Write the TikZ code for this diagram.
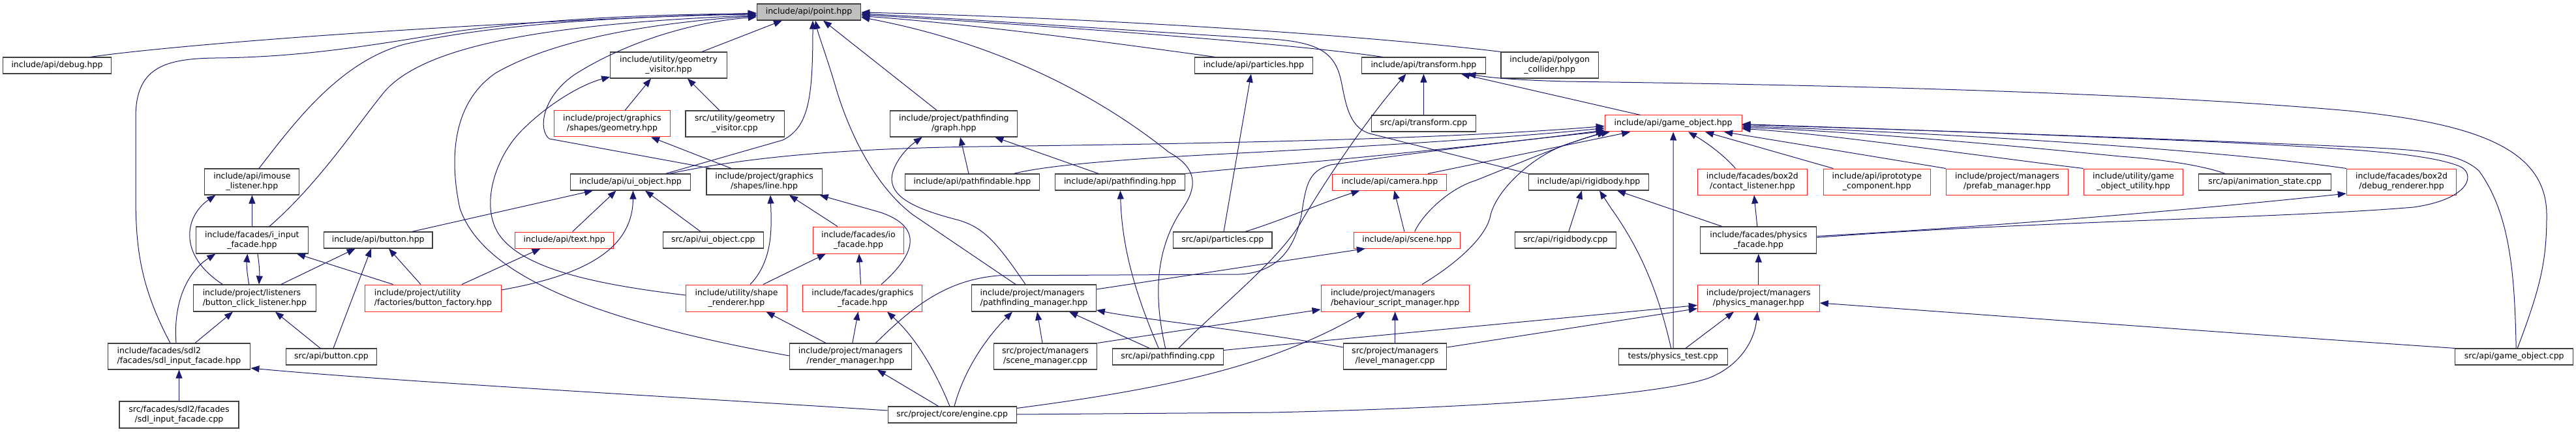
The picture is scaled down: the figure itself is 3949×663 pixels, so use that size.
\documentclass[tikz,border=0pt]{standalone}
\usepackage{fontspec}
\setmainfont{DejaVu Sans}
\usetikzlibrary{arrows.meta,calc}
\definecolor{edgec}{HTML}{191970}
\definecolor{boxk}{HTML}{404040}
\definecolor{boxr}{HTML}{FF2020}
\definecolor{pointfill}{HTML}{BFBFBF}
\tikzset{
  nd/.style={draw=boxk, line width=1.1pt, fill=white, inner sep=0pt, font=\fontsize{12.5}{15}\selectfont, align=center},
  rd/.style={nd, draw=boxr, line width=1pt},
  lft/.style={align=left},
  e/.style={draw=edgec, line width=1pt, -{Triangle[length=13pt,width=10pt]}},
}
\begin{document}
\begin{tikzpicture}[x=1pt,y=-1pt]
\useasboundingbox (0,0) rectangle (3949,663);
% row 0
\node[nd, fill=pointfill, minimum width=159.4pt, minimum height=25pt] (point) at (1240,18.5) {include/api/point.hpp};
% row 1
\node[nd, minimum width=166pt, minimum height=25pt] (debug) at (87.5,100.5) {include/api/debug.hpp};
\node[nd, minimum width=178.6pt, minimum height=40pt] (geovis) at (1025,100) {include/utility/geometry\\\_visitor.hpp};
\node[nd, minimum width=181.3pt, minimum height=25pt] (particles) at (1921.9,100.5) {include/api/particles.hpp};
\node[nd, minimum width=189.7pt, minimum height=25pt] (transform) at (2182.4,100.5) {include/api/transform.hpp};
\node[nd, minimum width=149.5pt, minimum height=40pt] (polygon) at (2375.7,100) {include/api/polygon\\\_collider.hpp};
% row 2
\node[rd, minimum width=177.7pt, minimum height=40pt] (geometry) at (938.4,190) {include/project/graphics\\/shapes/geometry.hpp};
\node[nd, minimum width=151.3pt, minimum height=40pt] (geoviscpp) at (1126.6,190) {src/utility/geometry\\\_visitor.cpp};
\node[nd, minimum width=195pt, minimum height=40pt] (graph) at (1462.3,190) {include/project/pathfinding\\/graph.hpp};
\node[nd, minimum width=160.3pt, minimum height=25pt] (transcpp) at (2182.4,189.5) {src/api/transform.cpp};
\node[rd, minimum width=209.8pt, minimum height=25pt] (gameobj) at (2565.1,189.5) {include/api/game\_object.hpp};
% row 3
\node[nd, minimum width=145pt, minimum height=40pt] (imouse) at (386.4,279) {include/api/imouse\\\_listener.hpp};
\node[nd, minimum width=184pt, minimum height=25pt] (uiobj) at (966.5,279.5) {include/api/ui\_object.hpp};
\node[nd, minimum width=177.2pt, minimum height=40pt] (line) at (1171.6,279) {include/project/graphics\\/shapes/line.hpp};
\node[nd, minimum width=206.7pt, minimum height=25pt] (pfable) at (1490.4,279.5) {include/api/pathfindable.hpp};
\node[nd, minimum width=199pt, minimum height=25pt] (pfhpp) at (1717,279.5) {include/api/pathfinding.hpp};
\node[rd, minimum width=175pt, minimum height=25pt] (camera) at (2130.4,279.5) {include/api/camera.hpp};
\node[nd, minimum width=184.4pt, minimum height=25pt] (rigid) at (2435.5,279.5) {include/api/rigidbody.hpp};
\node[rd, minimum width=168.3pt, minimum height=40pt] (contact) at (2686.4,279) {include/facades/box2d\\/contact\_listener.hpp};
\node[rd, minimum width=164.3pt, minimum height=40pt] (iproto) at (2877.3,279) {include/api/iprototype\\\_component.hpp};
\node[rd, minimum width=187pt, minimum height=40pt] (prefab) at (3077,279) {include/project/managers\\/prefab\_manager.hpp};
\node[rd, minimum width=152.7pt, minimum height=40pt] (goutil) at (3270.5,279) {include/utility/game\\\_object\_utility.hpp};
\node[nd, minimum width=203pt, minimum height=25pt] (anim) at (3472,279.5) {src/api/animation\_state.cpp};
\node[rd, minimum width=168.7pt, minimum height=40pt] (dbgrend) at (3681.6,279) {include/facades/box2d\\/debug\_renderer.hpp};
% row 4
\node[nd, minimum width=172pt, minimum height=41pt] (iinput) at (386.4,368.5) {include/facades/i\_input\\\_facade.hpp};
\node[nd, minimum width=166.5pt, minimum height=25pt] (button) at (579.7,368.5) {include/api/button.hpp};
\node[rd, minimum width=150.9pt, minimum height=25pt] (text) at (865.2,368.5) {include/api/text.hpp};
\node[nd, minimum width=154.5pt, minimum height=25pt] (uiobjcpp) at (1093.3,368.5) {src/api/ui\_object.cpp};
\node[rd, minimum width=139.7pt, minimum height=41pt] (iofac) at (1315.9,368.5) {include/facades/io\\\_facade.hpp};
\node[nd, minimum width=151.3pt, minimum height=25pt] (partcpp) at (1874.3,368.5) {src/api/particles.cpp};
\node[rd, minimum width=163pt, minimum height=25pt] (scene) at (2156.9,368.5) {include/api/scene.hpp};
\node[nd, minimum width=154.9pt, minimum height=25pt] (rigidcpp) at (2399.8,368.5) {src/api/rigidbody.cpp};
\node[nd, minimum width=178.1pt, minimum height=41pt] (physfac) at (2695.8,368.5) {include/facades/physics\\\_facade.hpp};
% row 5
\node[nd, lft, minimum width=188pt, minimum height=41pt] (bcl) at (390.4,457.5) {include/project/listeners\\/button\_click\_listener.hpp};
\node[rd, lft, minimum width=208.5pt, minimum height=41pt] (bfac) at (664,457.5) {include/project/utility\\/factories/button\_factory.hpp};
\node[rd, minimum width=155.4pt, minimum height=41pt] (shaper) at (1129,457.5) {include/utility/shape\\\_renderer.hpp};
\node[rd, minimum width=183pt, minimum height=41pt] (gfac) at (1322.3,457.5) {include/facades/graphics\\\_facade.hpp};
\node[nd, lft, minimum width=190.6pt, minimum height=41pt] (pfman) at (1585,457.5) {include/project/managers\\/pathfinding\_manager.hpp};
\node[rd, lft, minimum width=227.2pt, minimum height=41pt] (behav) at (2138.6,457.5) {include/project/managers\\/behaviour\_script\_manager.hpp};
\node[rd, minimum width=187pt, minimum height=41pt] (physman) at (2695.8,457.5) {include/project/managers\\/physics\_manager.hpp};
% row 6
\node[nd, lft, minimum width=218.7pt, minimum height=40pt] (sdlh) at (274.5,547) {include/facades/sdl2\\/facades/sdl\_input\_facade.hpp};
\node[nd, minimum width=138.4pt, minimum height=25pt] (buttoncpp) at (508,547.5) {src/api/button.cpp};
\node[nd, minimum width=187pt, minimum height=40pt] (renderm) at (1303.8,547) {include/project/managers\\/render\_manager.hpp};
\node[nd, minimum width=158.5pt, minimum height=40pt] (scenemcpp) at (1602.5,547) {src/project/managers\\/scene\_manager.cpp};
\node[nd, minimum width=169.7pt, minimum height=25pt] (pfcpp) at (1790.2,547.5) {src/api/pathfinding.cpp};
\node[nd, minimum width=158.4pt, minimum height=40pt] (levelm) at (2138.6,547) {src/project/managers\\/level\_manager.cpp};
\node[nd, minimum width=167pt, minimum height=25pt] (phystest) at (2564.7,547.5) {tests/physics\_test.cpp};
\node[nd, minimum width=180.8pt, minimum height=25pt] (gocpp) at (3854.2,547.5) {src/api/game\_object.cpp};
% row 7
\node[nd, minimum width=183pt, minimum height=41pt] (sdlcpp) at (274.5,636.5) {src/facades/sdl2/facades\\/sdl\_input\_facade.cpp};
\node[nd, minimum width=196.9pt, minimum height=25pt] (engine) at (1459.6,636.5) {src/project/core/engine.cpp};

% ---------- edges into point.hpp
\draw[e] ($(debug.north)+(51,0)$) .. controls (260,70) and (650,38) .. ($(point.west)+(0,1.5)$);
\draw[e] ($(sdlh.north)+(-13.5,0)$) .. controls (215,440) and (208,380) .. (208,300) -- (208,180) .. controls (208,105) and (250,90) .. (330,89) .. controls (460,88) and (570,70) .. (700,48) .. controls (850,28) and (1000,22) .. ($(point.west)+(0,2.5)$);
\draw[e] ($(imouse.north)+(10.6,0)$) .. controls (450,190) and (520,95) .. (620,68) .. controls (750,38) and (950,25) .. ($(point.west)+(0,3.5)$);
\draw[e] ($(iinput.north)+(26.6,0)$) .. controls (490,280) and (545,195) .. (590,140) .. controls (645,78) and (800,38) .. ($(point.west)+(0,5)$);
\draw[e] ($(renderm.west)+(0,-1)$) .. controls (900,490) and (740,420) .. (705,320) .. controls (690,250) and (690,160) .. (760,112) .. controls (850,60) and (1000,35) .. ($(point.west)+(0,6)$);
\draw[e] ($(line.north west)+(7,0)$) -- (842,213) .. controls (825,200) and (830,150) .. (880,115) .. controls (950,70) and (1050,35) .. ($(point.west)+(0,7.5)$);
\draw[e] ($(geovis.north)+(51,0)$) -- ($(point.south)+(-41,0)$);
\draw[e] ($(uiobj.north)+(54,0)$) -- (1200,215) .. controls (1240,195) and (1246,150) .. ($(point.south)+(6,0)$);
\draw[e] ($(graph.north)+(-26,0)$) -- ($(point.south)+(22,0)$);
\draw[e] ($(pfman.north)+(-28,0)$) -- (1400,330) .. controls (1340,285) and (1300,200) .. (1280,130) .. controls (1265,80) and (1255,55) .. ($(point.south)+(10,0)$);
\draw[e] ($(pfcpp.north)+(-3.6,0)$) .. controls (1772,470) and (1765,390) .. (1813,320) .. controls (1840,280) and (1830,255) .. (1791,233) .. controls (1700,160) and (1550,70) .. ($(point.east)+(0,8)$);
\draw[e] ($(particles.north)+(-59.4,0)$) .. controls (1700,65) and (1500,38) .. ($(point.east)+(0,6)$);
\draw[e] ($(transform.north)+(-62.8,0)$) .. controls (2000,70) and (1700,45) .. ($(point.east)+(0,4)$);
\draw[e] (polygon.north west) .. controls (2100,55) and (1700,28) .. ($(point.east)+(0,0.5)$);
\draw[e] (rigid.north west) -- (2100,205) .. controls (2065,195) and (2062,150) .. (2055,120) .. controls (2045,80) and (2020,65) .. (1950,60) .. controls (1700,45) and (1500,30) .. ($(point.east)+(0,2.5)$);
% ---------- geovis, geometry
\draw[e] ($(shaper.west)+(0,-4.5)$) .. controls (900,435) and (800,410) .. (765,360) .. controls (735,315) and (760,240) .. (800,200) .. controls (840,160) and (890,130) .. ($(geovis.west)+(0,18)$);
\draw[e] ($(geometry.north)+(19.6,0)$) -- ($(geovis.south)+(-27,0)$);
\draw[e] ($(geoviscpp.north)+(-23.6,0)$) -- ($(geovis.south)+(29,0)$);
\draw[e] ($(line.north)+(-50.6,0)$) -- ($(geometry.south)+(59.6,0)$);
% ---------- ui_object
\draw[e] ($(button.north)+(52,0)$) -- ($(uiobj.south)+(-57.5,0)$);
\draw[e] ($(text.north)+(12.5,0)$) -- ($(uiobj.south)+(-22,0)$);
\draw[e] ($(uiobjcpp.north)+(-19.3,0)$) -- ($(uiobj.south)+(22.5,0)$);
\draw[e] ($(bfac.east)+(0,-12.5)$) .. controls (880,425) and (970,390) .. ($(uiobj.south)+(4,0)$);
% ---------- line
\draw[e] ($(shaper.north)+(21,0)$) .. controls (1185,400) and (1183,350) .. ($(line.south)+(9.4,0)$);
\draw[e] ($(iofac.north)+(-32,0)$) -- ($(line.south)+(38.4,0)$);
\draw[e] ($(gfac.north)+(28.7,0)$) .. controls (1415,380) and (1405,345) .. (1350,326) -- ($(line.south)+(85,0)$);
% ---------- text, io, shape, graphics, render
\draw[e] ($(bfac.north)+(44,0)$) -- ($(text.south)+(-36.6,0)$);
\draw[e] ($(shaper.north)+(41,0)$) -- ($(iofac.south)+(-50,0)$);
\draw[e] ($(gfac.north)+(-2.7,0)$) -- ($(iofac.south)+(1,0)$);
\draw[e] ($(renderm.north)+(-37.8,0)$) -- ($(shaper.south)+(45.5,0)$);
\draw[e] ($(renderm.north)+(3,0)$) -- ($(gfac.south)+(-6.7,0)$);
\draw[e] ($(engine.north)+(-3.6,0)$) .. controls (1430,560) and (1400,515) .. ($(gfac.south)+(37.7,0)$);
\draw[e] ($(engine.north)+(-21,0)$) -- ($(renderm.south)+(41,0)$);
% ---------- input side
\draw[e] (iinput.north) -- (imouse.south);
\draw[e] ($(bcl.north)+(-49,0)$) .. controls (270,390) and (285,330) .. ($(imouse.south)+(-56,0)$);
\draw[e] ($(sdlh.north)+(-4.5,0)$) .. controls (265,460) and (290,415) .. ($(iinput.south)+(-56,0)$);
\draw[e] ($(bcl.north)+(-8.7,0)$) .. controls (378,415) and (378,405) .. ($(iinput.south)+(-7,0)$);
\draw[e] ($(bfac.north)+(-61.4,0)$) -- ($(iinput.south)+(68.6,0)$);
\draw[e] ($(iinput.south)+(8.6,0)$) .. controls (398,410) and (398,420) .. ($(bcl.north)+(6.6,0)$);
\draw[e] ($(sdlh.north)+(24.5,0)$) -- ($(bcl.south)+(-33.4,0)$);
\draw[e] ($(buttoncpp.north)+(-17,0)$) -- ($(bcl.south)+(31.6,0)$);
\draw[e] ($(bcl.north)+(40.4,0)$) -- ($(button.south)+(-35,0)$);
\draw[e] ($(buttoncpp.north)+(3,0)$) -- ($(button.south)+(-10.7,0)$);
\draw[e] ($(bfac.north)+(-19,0)$) -- ($(button.south)+(16.3,0)$);
\draw[e] (sdlcpp.north) -- (sdlh.south);
\draw[e] ($(engine.west)+(0,-6.5)$) .. controls (1000,607) and (600,585) .. ($(sdlh.east)+(0,18)$);
% ---------- pathfinding
\draw[e] ($(pfman.north)+(-13,0)$) .. controls (1530,375) and (1510,350) .. (1470,338) .. controls (1400,320) and (1355,300) .. (1370,260) .. controls (1380,235) and (1400,220) .. ($(graph.south)+(-48.5,0)$);
\draw[e] ($(pfable.north)+(-5.4,0)$) -- ($(graph.south)+(9.7,0)$);
\draw[e] ($(pfhpp.north)+(-33,0)$) -- ($(graph.south)+(63,0)$);
\draw[e] ($(pfcpp.north)+(-14,0)$) .. controls (1740,450) and (1720,380) .. ($(pfhpp.south)+(0.4,0)$);
\draw[e] ($(engine.north)+(3.4,0)$) .. controls (1480,560) and (1520,510) .. ($(pfman.south)+(-33,0)$);
\draw[e] ($(scenemcpp.north)+(-4.5,0)$) -- ($(pfman.south)+(5,0)$);
\draw[e] ($(pfcpp.north)+(-28,0)$) -- ($(pfman.south)+(54,0)$);
\draw[e] ($(levelm.west)+(0,-14)$) .. controls (1900,505) and (1750,490) .. ($(pfman.east)+(0,18.5)$);
% ---------- particles, camera
\draw[e] ($(partcpp.north)+(1.7,0)$) -- ($(particles.south)+(-4,0)$);
\draw[e] ($(partcpp.north)+(34.7,0)$) .. controls (1960,340) and (2030,310) .. ($(camera.south)+(-46,0)$);
\draw[e] ($(scene.north)+(-4,0)$) -- ($(camera.south)+(7,0)$);
% ---------- transform
\draw[e] (transcpp.north) -- (transform.south);
\draw[e] ($(gameobj.north)+(-50.4,0)$) -- ($(transform.south)+(57.6,0)$);
\draw[e] ($(gocpp.north)+(5,0)$) .. controls (3895,440) and (3904,400) .. (3904,330) .. controls (3904,230) and (3800,190) .. (3600,170) .. controls (3200,135) and (2600,128) .. (2400,125) .. controls (2330,123) and (2290,120) .. ($(transform.south)+(67,0)$);
\draw[e] ($(pfcpp.north)+(16.5,0)$) .. controls (1870,470) and (1960,400) .. (1995,340) .. controls (2030,280) and (2090,190) .. ($(transform.south)+(-27,0)$);
% ---------- game_object.hpp
\draw[e] ($(uiobj.north)+(60,0)$) .. controls (1150,240) and (1300,228) .. (1500,225) .. controls (1800,221) and (2200,215) .. ($(gameobj.west)+(0,4)$);
\draw[e] ($(pfable.north)+(63.6,0)$) .. controls (1600,255) and (1700,245) .. (1900,235) .. controls (2150,222) and (2350,208) .. ($(gameobj.west)+(0,7)$);
\draw[e] (pfhpp.north east) .. controls (1900,258) and (2000,250) .. (2100,240) .. controls (2300,220) and (2400,208) .. ($(gameobj.west)+(0,10)$);
\draw[e] ($(renderm.north)+(38.6,0)$) .. controls (1400,470) and (1450,430) .. (1530,423) -- (1900,421) .. controls (1960,418) and (1985,380) .. (1995,330) .. controls (2002,285) and (2005,262) .. (2040,253) .. controls (2200,230) and (2380,210) .. ($(gameobj.west)+(0,12)$);
\draw[e] ($(camera.north)+(58.6,0)$) -- ($(gameobj.south)+(-66,0)$);
\draw[e] ($(scene.north)+(11.8,0)$) .. controls (2180,330) and (2220,290) .. (2262,277) .. controls (2330,250) and (2400,220) .. ($(gameobj.south west)+(2,0)$);
\draw[e] ($(behav.north)+(41.4,0)$) .. controls (2240,400) and (2280,360) .. (2285,330) .. controls (2295,290) and (2350,240) .. (2400,222) .. controls (2430,212) and (2450,206) .. ($(gameobj.south west)+(8,0)$);
\draw[e] ($(phystest.north)+(0.3,0)$) -- (gameobj.south);
\draw[e] ($(contact.north)+(-26,0)$) .. controls (2640,235) and (2610,215) .. ($(gameobj.south)+(23,0)$);
\draw[e] ($(iproto.north)+(-67,0)$) -- ($(gameobj.south)+(49,0)$);
\draw[e] (prefab.north west) -- ($(gameobj.south)+(78,0)$);
\draw[e] (goutil.north west) .. controls (3000,235) and (2800,205) .. ($(gameobj.east)+(0,8)$);
\draw[e] ($(anim.north)+(-61,0)$) .. controls (3380,255) and (3320,245) .. (3250,240) .. controls (3000,215) and (2800,200) .. ($(gameobj.east)+(0,6)$);
\draw[e] (dbgrend.north west) .. controls (3400,230) and (3000,205) .. ($(gameobj.east)+(0,4)$);
\draw[e] ($(gocpp.north)+(3,0)$) .. controls (3855,430) and (3850,330) .. (3800,262) .. controls (3770,235) and (3720,230) .. (3600,225) .. controls (3300,212) and (2900,198) .. ($(gameobj.east)+(0,2)$);
\draw[e] ($(physfac.east)+(0,-4)$) .. controls (3100,340) and (3500,335) .. (3700,318) .. controls (3790,305) and (3795,265) .. (3770,255) .. controls (3720,235) and (3600,228) .. (3400,218) .. controls (3100,205) and (2800,195) .. ($(gameobj.east)+(0,1)$);
% ---------- physics
\draw[e] ($(physfac.east)+(0,-6)$) .. controls (3100,345) and (3400,318) .. ($(dbgrend.west)+(0,18)$);
\draw[e] (gocpp.north west) .. controls (3400,510) and (3000,480) .. ($(physman.east)+(0,7.5)$);
\draw[e] ($(pfcpp.east)+(0,-10)$) -- ($(physman.west)+(0,11)$);
\draw[e] ($(levelm.east)+(0,-14)$) -- ($(physman.west)+(0,16)$);
\draw[e] ($(phystest.north)+(19.3,0)$) -- ($(physman.south)+(-37.8,0)$);
\draw[e] ($(engine.east)+(0,-0.5)$) -- (1950,633) .. controls (2300,625) and (2550,605) .. (2620,580) .. controls (2670,560) and (2690,520) .. ($(physman.south)+(-1.8,0)$);
\draw[e] (physman.north) -- (physfac.south);
\draw[e] ($(rigidcpp.north)+(5,0)$) -- ($(rigid.south)+(-10.5,0)$);
\draw[e] ($(phystest.north)+(-3,0)$) .. controls (2545,460) and (2520,390) .. (2470,320) -- ($(rigid.south)+(16.5,0)$);
\draw[e] ($(physfac.north)+(-56,0)$) -- ($(rigid.south)+(43.5,0)$);
\draw[e] ($(physfac.north)+(-2,0)$) -- ($(contact.south)+(2.6,0)$);
% ---------- behaviour, scene
\draw[e] (scenemcpp.north east) -- ($(behav.west)+(0,17.5)$);
\draw[e] (levelm.north) -- (behav.south);
\draw[e] ($(engine.east)+(0,-10)$) .. controls (1800,595) and (1950,560) .. ($(behav.south)+(-45.6,0)$);
\draw[e] ($(pfman.east)+(0,-13.5)$) -- ($(scene.south)+(-64,0)$);
\end{tikzpicture}
\end{document}
